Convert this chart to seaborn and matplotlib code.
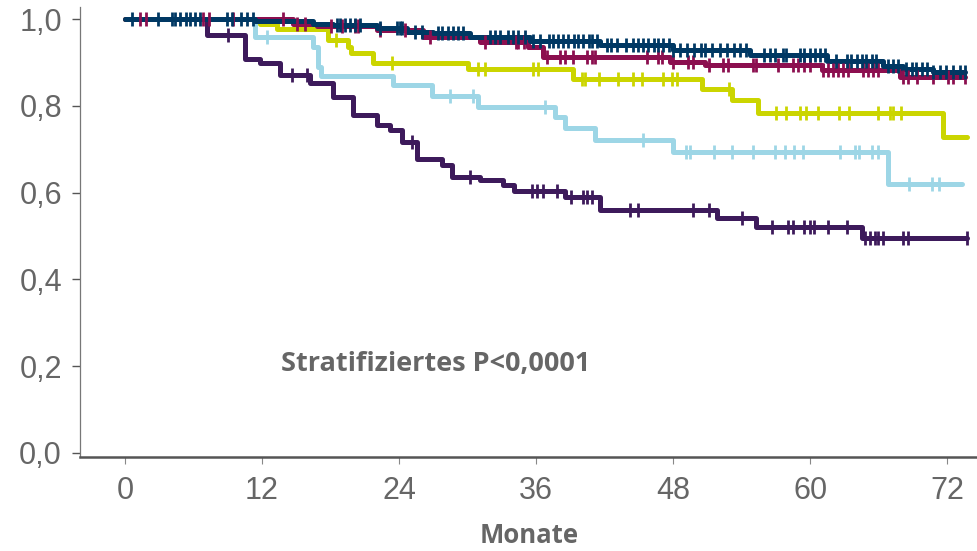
import seaborn as sns
import pandas as pd
import matplotlib.pyplot as plt
import numpy as np

# Kaplan-Meier curves: step times (months) and survival after each step
purple_t = [0, 7.2, 10.5, 11.8, 13.6, 16.2, 18.2, 20.0, 22.1, 23.2, 24.3, 25.6, 27.8, 28.6,
            31.1, 33.1, 34.1, 38.5, 41.6, 51.8, 55.3, 64.5]
purple_s = [1.0, 0.964, 0.908, 0.899, 0.872, 0.853, 0.821, 0.779, 0.756, 0.745, 0.717, 0.678,
            0.664, 0.636, 0.629, 0.618, 0.604, 0.59, 0.56, 0.542, 0.521, 0.495]
purple_end = 73.7
purple_cens = [9.0, 14.6, 15.9, 25.1, 30.2, 35.6, 36.1, 36.6, 37.8, 39.1, 40.1, 40.5, 40.9,
               44.2, 44.9, 49.7, 51.1, 54.0, 56.7, 58.1, 58.5, 59.5, 60.0, 60.3, 61.6, 63.2,
               64.8, 65.2, 65.7, 65.9, 66.4, 68.1, 68.6, 73.7]

blue_t = [0, 11.4, 16.5, 16.9, 17.2, 23.5, 26.9, 30.9, 37.7, 38.5, 41.2, 48.0, 66.8]
blue_s = [1.0, 0.959, 0.936, 0.89, 0.869, 0.848, 0.823, 0.798, 0.775, 0.749, 0.721, 0.694, 0.62]
blue_end = 73.3
blue_cens = [12.4, 28.5, 30.5, 36.8, 45.4, 49.1, 49.5, 51.6, 53.2, 55.0, 56.9, 57.8, 58.6,
             59.4, 62.6, 63.9, 64.3, 65.4, 65.9, 68.7, 70.7, 71.3]

yellow_t = [0, 11.8, 13.3, 17.8, 19.5, 19.8, 21.7, 30.0, 39.2, 50.5, 53.2, 55.4, 71.6]
yellow_s = [1.0, 0.99, 0.978, 0.952, 0.936, 0.922, 0.899, 0.885, 0.862, 0.839, 0.814, 0.784, 0.728]
yellow_end = 73.7
yellow_cens = [18.5, 23.4, 30.9, 31.5, 35.7, 36.2, 40.0, 40.3, 41.5, 43.2, 44.5, 45.3, 47.1,
               47.9, 48.3, 52.9, 57.0, 57.9, 59.1, 59.6, 60.7, 62.5, 63.4, 65.9, 67.0, 67.3, 68.0]

red_t = [0, 14.7, 16.8, 22.1, 26.1, 31.1, 35.3, 36.6, 47.7, 50.8, 61.0, 67.9]
red_s = [1.0, 0.99, 0.985, 0.975, 0.96, 0.948, 0.936, 0.913, 0.901, 0.894, 0.883, 0.867]
red_end = 73.6
red_cens = [1.3, 1.8, 6.8, 7.4, 9.5, 13.8, 15.1, 15.8, 18.0, 19.0, 20.1, 20.4, 22.3, 24.5,
            26.7, 31.5, 34.2, 34.4, 34.9, 37.0, 38.1, 38.5, 39.2, 40.5, 40.9, 41.2, 45.7, 46.7,
            47.0, 48.0, 49.3, 49.7, 51.1, 52.4, 52.8, 55.0, 55.3, 57.2, 58.5, 58.9, 59.5, 60.0,
            61.1, 61.6, 62.0, 62.4, 62.9, 63.3, 64.6, 65.1, 65.5, 65.9, 68.1, 68.6, 69.4, 70.8,
            72.1, 72.5, 73.6]

navy_t = [0, 11.4, 16.5, 18.2, 22.1, 24.7, 27.0, 30.2, 35.5, 41.6, 48.0, 54.7, 61.5, 66.4,
          68.1, 70.8]
navy_s = [1.0, 0.996, 0.99, 0.986, 0.979, 0.971, 0.968, 0.96, 0.95, 0.94, 0.929, 0.918, 0.903,
          0.893, 0.886, 0.879]
navy_end = 73.6
navy_cens = [0.6, 2.9, 4.1, 4.4, 4.8, 5.3, 5.7, 6.1, 6.6, 8.9, 9.4, 10.2, 10.7, 11.2, 18.6,
             18.8, 19.3, 19.7, 20.1, 20.6, 22.3, 23.8, 24.1, 24.3, 25.4, 26.0, 27.4, 27.8, 28.3,
             28.7, 29.2, 29.6, 32.0, 32.4, 32.8, 33.5, 34.0, 34.4, 35.0, 35.7, 36.3, 37.1, 37.5,
             37.9, 38.4, 38.8, 39.3, 39.7, 40.1, 40.6, 40.9, 41.3, 42.2, 42.6, 43.1, 43.9, 44.5,
             44.9, 45.4, 45.8, 46.3, 46.7, 47.1, 47.6, 48.0, 48.6, 49.2, 49.8, 50.4, 50.8, 51.4,
             52.1, 52.7, 53.3, 53.9, 54.4, 56.0, 56.5, 56.9, 57.6, 57.9, 59.1, 59.5, 60.0, 60.4,
             60.9, 61.3, 62.3, 63.2, 63.6, 64.1, 64.5, 64.9, 65.4, 65.8, 66.8, 67.3, 67.7, 68.4,
             68.9, 69.3, 69.8, 70.2, 70.8, 71.4, 71.9, 72.5, 73.1, 73.6]

groups = {
    "purple": (purple_t, purple_s, purple_end, purple_cens, "#3d1a5b"),
    "blue": (blue_t, blue_s, blue_end, blue_cens, "#9dd6e6"),
    "yellow": (yellow_t, yellow_s, yellow_end, yellow_cens, "#cbd500"),
    "red": (red_t, red_s, red_end, red_cens, "#8c0f4f"),
    "navy": (navy_t, navy_s, navy_end, navy_cens, "#003863"),
}

rows, marks = [], []
for name, (t, s, end, cens, col) in groups.items():
    for ti, si in zip(t + [end], s + [s[-1]]):
        rows.append((name, ti, si))
    idx = np.searchsorted(t, cens, side="right") - 1
    for c, i in zip(cens, idx):
        marks.append((name, c, s[i]))
curves = pd.DataFrame(rows, columns=["grp", "month", "surv"])
cens_df = pd.DataFrame(marks, columns=["grp", "month", "surv"])
palette = {k: v[4] for k, v in groups.items()}

sns.set_style("white")
plt.rcParams["font.family"] = ["Liberation Sans", "DejaVu Sans"]

fig = plt.figure(figsize=(9.78, 5.51), dpi=100)
ax = fig.add_axes([0.0818, 0.1706, 0.9182, 0.8164])

sns.lineplot(data=curves, x="month", y="surv", hue="grp", palette=palette,
             drawstyle="steps-post", estimator=None, sort=False, linewidth=3.6,
             legend=False, ax=ax)
for name in groups:
    sub = cens_df[cens_df.grp == name]
    ax.plot(sub.month, sub.surv, linestyle="none", marker="|", markersize=10,
            markeredgewidth=2, color=palette[name])

ax.set_xlim(-3.94, 74.7)
ax.set_ylim(-0.0097, 1.028)
ax.set_xticks(range(0, 73, 12))
ax.set_yticks([0, 0.2, 0.4, 0.6, 0.8, 1.0])
ax.set_yticklabels(["0,0", "0,2", "0,4", "0,6", "0,8", "1,0"])

gray = "#666666"
ax.tick_params(axis="both", labelsize=22, labelcolor=gray)
ax.tick_params(axis="y", length=6, width=1, color="#555555", pad=7, direction="out", left=True)
ax.tick_params(axis="x", length=5, width=0.8, color="#888888", pad=9, direction="out", bottom=True)

sns.despine(ax=ax)
ax.spines["left"].set_color("#777777")
ax.spines["left"].set_linewidth(0.9)
ax.spines["bottom"].set_color("#555555")
ax.spines["bottom"].set_linewidth(1.8)

ax.set_xlabel("Monate", fontsize=18.5, fontweight="bold", color=gray,
              family=["Open Sans", "DejaVu Sans"], labelpad=11)
ax.set_ylabel("")
ax.text(13.7, 0.205, "Stratifiziertes P<0,0001", fontsize=19.5, fontweight="bold",
        color=gray, family=["Open Sans", "DejaVu Sans"], va="center", ha="left")

fig.savefig("out.png", dpi=100)
